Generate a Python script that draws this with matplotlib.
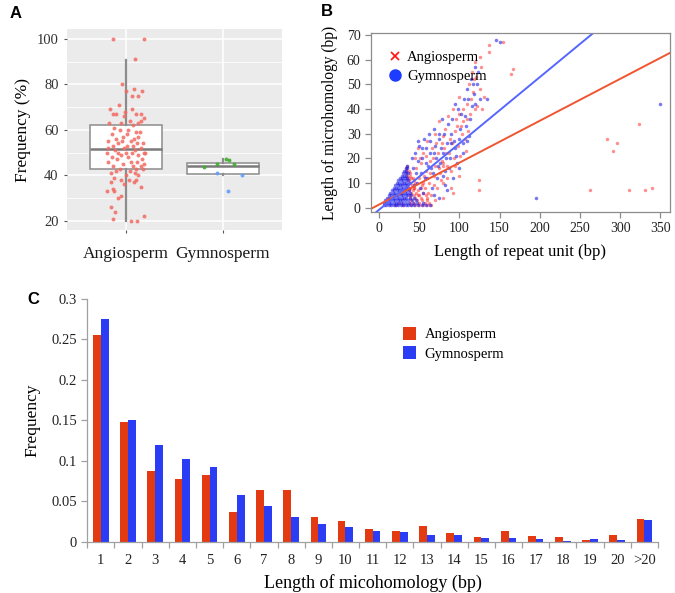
import matplotlib
matplotlib.use("Agg")
import matplotlib.pyplot as plt
from matplotlib.lines import Line2D
import numpy as np

plt.rcParams['font.family'] = ['Liberation Serif', 'DejaVu Serif']

# ---------------- Panel A data ----------------
a_groups = ["Angiosperm", "Gymnosperm"]
# box statistics: whislo, q1, med, q3, whishi
a_box_ang = [20, 42.7, 51.4, 62.3, 90.8]
a_box_gym = [40.0, 40.5, 44.1, 45.5, 47.2]
ang_vals = [100, 100, 91, 80, 78, 77, 77, 75, 75, 71, 69, 69, 68, 67, 67, 67, 67, 66, 65, 64, 64, 63, 63, 63, 62,
            61, 60, 60, 59, 59, 58, 58, 57, 57, 56, 56, 55, 55, 55, 54, 54, 54, 53, 53, 53, 52, 52, 52, 51, 51,
            50, 50, 50, 50, 50, 50, 49, 49, 48, 48, 47, 47, 46, 46, 46, 45, 45, 44, 44, 44, 43, 43, 43,
            42, 42, 41, 41, 40, 40, 39, 38, 38, 38, 37, 37, 36, 35, 34, 33, 33, 31, 30, 26, 24, 22, 21, 20, 20]
ang_jit = [-0.13, 0.18, 0.09, -0.04, 0.08, 0.0, 0.16, 0.06, 0.12, -0.07, -0.17, 0.06, -0.01, -0.13, -0.10, 0.10, 0.15,
           -0.02, 0.18, 0.04, 0.15, -0.18, -0.05, 0.12, 0.07,
           -0.12, -0.06, 0.02, 0.10, 0.14, -0.15, 0.01, 0.12, -0.03, 0.08, -0.10, -0.19, -0.04, 0.05, 0.17, -0.08,
           0.11, -0.14, 0.01, 0.07, -0.19, 0.15, -0.02, 0.09, -0.11,
           -0.20, -0.08, 0.0, 0.06, 0.18, 0.20, -0.05, 0.12, -0.15, 0.02, 0.16, -0.09, 0.05, -0.19, 0.11, -0.03,
           0.19, -0.13, 0.07, 0.15, -0.06, 0.10, 0.17,
           -0.10, 0.04, -0.16, 0.09, 0.0, 0.12, -0.12, -0.05, 0.03, 0.10, -0.16, 0.08, -0.02, 0.15, -0.13, -0.20,
           -0.12, -0.05, -0.08, -0.16, -0.11, 0.18, -0.13, 0.05, 0.11]
gym_green_vals = [43.6, 44.9, 47.1, 46.6, 44.9]
gym_green_jit = [-0.20, -0.06, 0.03, 0.06, 0.11]
gym_blue_vals = [41.0, 40.1, 33.1]
gym_blue_jit = [-0.06, 0.20, 0.05]

# ---------------- Panel B data ----------------
ang_pts = [
    (40, 1), (45, 1), (50, 1), (55, 1), (60, 1), (65, 1), (20, 1), (30, 1),
    (38, 2), (43, 2), (50, 2), (57, 2), (62, 2), (25, 2),
    (40, 3), (47, 3), (53, 3), (60, 3), (39, 4), (45, 4), (52, 4),
    (38, 5), (44, 5), (50, 5), (58, 5), (40, 6), (46, 6), (55, 6),
    (37, 7), (42, 7), (48, 7), (38, 8), (44, 8), (52, 8), (36, 9), (41, 9),
    (38, 10), (45, 10), (55, 10), (37, 11), (43, 11), (36, 12), (40, 12),
    (35, 13), (39, 13), (34, 14), (38, 14), (33, 15), (37, 15), (34, 16), (35, 17),
    (45, 20), (48, 24), (50, 12), (52, 18), (55, 22), (57, 8), (58, 15), (60, 27), (62, 10), (63, 19),
    (65, 5), (66, 24), (68, 13), (70, 30), (70, 17), (72, 8), (73, 22), (75, 35), (76, 14), (78, 19),
    (78, 26), (79, 17), (80, 18), (80, 10), (82, 32), (83, 22), (85, 12), (86, 37), (88, 28), (89, 8),
    (90, 15), (92, 40), (93, 20), (95, 31), (96, 36), (98, 25), (100, 45), (100, 13), (102, 33),
    (103, 30), (105, 40), (108, 23), (110, 36), (112, 50), (115, 44), (116, 55), (118, 52), (119, 59),
    (120, 40), (122, 41), (124, 11), (124, 7), (125, 48), (126, 61), (128, 40), (130, 45), (137, 66),
    (137, 63), (154, 67), (164, 54), (167, 56), (263, 7), (283, 28), (291, 23), (296, 26), (311, 7),
    (323, 34), (331, 7), (339, 8),
    (42, 12), (44, 8), (46, 16), (48, 5), (51, 20), (53, 9), (56, 13), (59, 21), (61, 6), (64, 14),
    (67, 20), (69, 9), (71, 26), (74, 16), (77, 11), (79, 29), (81, 24), (84, 17), (87, 22), (91, 26),
    (94, 17), (97, 33), (99, 38), (101, 21), (104, 35), (107, 28), (109, 42), (111, 31), (113, 38),
    (117, 47), (121, 53), (127, 57), (80, 4), (92, 6), (60, 4), (70, 3)]
gym_pts = [
    (6, 1), (9, 1), (12, 1), (15, 1), (18, 1), (21, 1), (24, 1), (27, 1), (30, 1), (33, 1), (36, 1), (40, 1),
    (44, 1), (48, 1), (53, 1), (58, 1), (63, 1),
    (6, 2), (9, 2), (12, 2), (15, 2), (18, 2), (21, 2), (24, 2), (27, 2), (30, 2), (33, 2), (37, 2), (42, 2),
    (47, 2), (55, 2),
    (8, 3), (11, 3), (14, 3), (17, 3), (20, 3), (23, 3), (26, 3), (29, 3), (32, 3), (36, 3), (41, 3), (46, 3),
    (10, 4), (13, 4), (16, 4), (19, 4), (22, 4), (25, 4), (28, 4), (31, 4), (34, 4), (38, 4), (43, 4),
    (12, 5), (15, 5), (18, 5), (21, 5), (24, 5), (27, 5), (30, 5), (33, 5), (36, 5), (40, 5),
    (14, 6), (17, 6), (20, 6), (23, 6), (26, 6), (29, 6), (32, 6), (35, 6), (39, 6),
    (16, 7), (19, 7), (22, 7), (25, 7), (28, 7), (31, 7), (34, 7), (37, 7),
    (18, 8), (21, 8), (24, 8), (27, 8), (30, 8), (33, 8), (36, 8),
    (20, 9), (23, 9), (26, 9), (29, 9), (32, 9), (35, 9),
    (22, 10), (25, 10), (28, 10), (31, 10), (34, 10), (37, 10),
    (24, 11), (27, 11), (30, 11), (33, 11), (36, 11),
    (26, 12), (29, 12), (32, 12), (35, 12), (28, 13), (31, 13), (34, 13),
    (30, 14), (33, 14), (36, 14), (31, 15), (34, 15), (33, 16), (35, 16), (35, 17),
    (42, 16), (45, 22), (47, 10), (50, 25), (52, 14), (54, 20), (55, 6), (56, 28), (58, 18), (60, 12),
    (62, 30), (63, 22), (65, 16), (66, 8), (68, 32), (70, 25), (71, 20), (72, 12), (74, 28), (75, 4),
    (76, 18), (78, 36), (80, 22), (82, 15), (84, 26), (85, 7), (86, 34), (88, 20), (90, 30), (92, 12),
    (94, 24), (95, 42), (97, 18), (99, 28), (100, 16), (102, 38), (105, 26), (106, 44), (108, 33),
    (110, 48), (112, 29), (114, 52), (116, 41), (118, 46), (120, 57), (122, 50), (125, 44), (134, 44),
    (146, 68), (150, 67), (195, 4), (350, 42),
    (41, 20), (43, 9), (46, 14), (48, 19), (49, 27), (51, 8), (53, 24), (57, 12), (59, 24), (61, 17),
    (64, 27), (67, 14), (69, 22), (73, 17), (75, 30), (77, 24), (79, 13), (81, 30), (83, 20), (87, 16),
    (89, 26), (91, 36), (93, 27), (96, 21), (98, 40), (101, 32), (104, 22), (107, 37), (109, 27),
    (111, 44), (113, 36), (117, 50), (119, 42), (123, 55), (69, 5), (82, 9)]
# regression lines: (intercept, slope)
ang_fit = (1.2, 0.170)
gym_fit = (-0.9, 0.269)

# ---------------- Panel C data ----------------
c_labels = ["1", "2", "3", "4", "5", "6", "7", "8", "9", "10", "11", "12", "13", "14", "15", "16", "17",
            "18", "19", "20", ">20"]
c_ang = [0.255, 0.148, 0.087, 0.078, 0.082, 0.037, 0.064, 0.064, 0.030, 0.0256, 0.0153, 0.0136, 0.019,
         0.0107, 0.0058, 0.0136, 0.0066, 0.0058, 0.0016, 0.0087, 0.0277]
c_gym = [0.275, 0.150, 0.119, 0.102, 0.092, 0.058, 0.0445, 0.031, 0.022, 0.0178, 0.0132, 0.0124, 0.0087,
         0.0079, 0.005, 0.005, 0.0033, 0.0008, 0.0033, 0.002, 0.0268]

W, H = 675, 593
fig = plt.figure(figsize=(W / 100, H / 100), dpi=100)


def rect(l, t, r, b):
    return [l / W, 1 - b / H, (r - l) / W, (b - t) / H]


# ================= Panel A =================
axA = fig.add_axes(rect(67, 29, 282, 230))
axA.set_facecolor('#EBEBEB')
for s in axA.spines.values():
    s.set_visible(False)
stats = []
for b in [a_box_ang, a_box_gym]:
    stats.append(dict(whislo=b[0], q1=b[1], med=b[2], q3=b[3], whishi=b[4], fliers=[]))
axA.bxp(stats, positions=[1, 2], widths=0.75, showcaps=False, patch_artist=True, showfliers=False,
        boxprops=dict(facecolor='white', edgecolor='#8c8c8c', lw=1.1),
        medianprops=dict(color='#7a7a7a', lw=1.8),
        whiskerprops=dict(color='#8c8c8c', lw=1.6))
axA.scatter(1 + np.array(ang_jit), ang_vals, s=8, color='#F26B63', alpha=0.85, lw=0, zorder=3)
axA.scatter(2 + np.array(gym_green_jit), gym_green_vals, s=8, color='#3DAE2B', alpha=0.9, lw=0, zorder=3)
axA.scatter(2 + np.array(gym_blue_jit), gym_blue_vals, s=8, color='#619CFF', alpha=0.9, lw=0, zorder=3)
axA.set_xlim(0.39, 2.61)
axA.set_ylim(16, 104.3)
axA.set_yticks([20, 40, 60, 80, 100])
axA.set_yticklabels(['20', '40', '60', '80', '100'])
axA.set_yticks([30, 50, 70, 90], minor=True)
axA.set_xticks([1, 2])
axA.set_xticklabels(a_groups, fontsize=12.5, color='#1a1a1a')
axA.tick_params(axis='y', labelsize=10.5, labelcolor='#333333', color='#555555', length=2.5, width=0.8)
axA.tick_params(axis='x', color='#555555', length=2.5, width=0.8, pad=9)
axA.tick_params(which='minor', length=0)
axA.grid(True, which='major', color='white', lw=1.1)
axA.grid(True, which='minor', axis='y', color='white', lw=0.55)
axA.set_axisbelow(True)
axA.set_ylabel('Frequency (%)', fontsize=12.5, labelpad=4)
fig.text(10 / W, 1 - 13 / H, 'A', family='Liberation Sans', fontweight='bold', fontsize=12, va='center')

# ================= Panel B =================
axB = fig.add_axes(rect(371, 33, 670, 212))
for s in axB.spines.values():
    s.set_color('#8c8c8c')
    s.set_linewidth(0.9)
axB.set_xlim(-10, 362)
axB.set_ylim(-1.8, 70.8)
axB.set_xticks(range(0, 351, 50))
axB.set_yticks(range(0, 71, 10))
axB.tick_params(labelsize=10, color='#8c8c8c', length=4, width=0.9, labelcolor='#222222')
ax_ = np.array([p[0] for p in ang_pts]); ay_ = np.array([p[1] for p in ang_pts])
gx_ = np.array([p[0] for p in gym_pts]); gy_ = np.array([p[1] for p in gym_pts])
axB.scatter(ax_, ay_, marker='o', s=6, color='#FF2020', alpha=0.5, lw=0)
axB.scatter(gx_, gy_, marker='o', s=6.5, color='#2020E8', alpha=0.6, lw=0)
xx = np.array([-10, 362])
axB.plot(xx, ang_fit[0] + ang_fit[1] * xx, color='#F0552F', lw=1.4)
axB.plot(xx, gym_fit[0] + gym_fit[1] * xx, color='#5566FF', lw=1.4)
axB.set_xlabel('Length of repeat unit (bp)', fontsize=12, labelpad=6)
axB.set_ylabel('Length of microhomology (bp)', fontsize=11.2, labelpad=6)
hB = [Line2D([], [], marker='x', color='#FF1A1A', ls='none', markersize=6, mew=1.3),
      Line2D([], [], marker='o', color='#1E3CFF', ls='none', markersize=8)]
axB.legend(hB, ['Angiosperm', 'Gymnosperm'], loc='upper left', bbox_to_anchor=(0.023, 0.955), frameon=False,
           fontsize=10.5, handlelength=1.0, handletextpad=0.3, labelspacing=0.35, borderpad=0.2)
fig.text(321 / W, 1 - 11 / H, 'B', family='Liberation Sans', fontweight='bold', fontsize=12, va='center')

# ================= Panel C =================
axC = fig.add_axes(rect(87.3, 299, 658, 541.7))
x = np.arange(len(c_labels))
bw = 0.285
axC.bar(x - bw / 2, c_ang, width=bw, color='#E33A12', label='Angiosperm')
axC.bar(x + bw / 2, c_gym, width=bw, color='#2B3CF5', label='Gymnosperm')
axC.set_xlim(-0.5, len(c_labels) - 0.5)
axC.set_ylim(0, 0.3)
axC.set_yticks([0, 0.05, 0.1, 0.15, 0.2, 0.25, 0.3])
axC.set_yticklabels(['0', '0.05', '0.1', '0.15', '0.2', '0.25', '0.3'])
axC.set_xticks(x)
axC.set_xticklabels(c_labels)
axC.set_xticks(np.arange(-0.5, len(c_labels), 1.0), minor=True)
axC.tick_params(axis='x', which='major', length=0, pad=9, labelsize=10.5, labelcolor='#222222')
axC.tick_params(axis='x', which='minor', length=4, color='#a0a0a0', width=0.9)
axC.tick_params(axis='y', length=4, color='#a0a0a0', width=0.9, labelsize=10.5, labelcolor='#222222')
for s in ['top', 'right']:
    axC.spines[s].set_visible(False)
for s in ['left', 'bottom']:
    axC.spines[s].set_color('#a0a0a0')
    axC.spines[s].set_linewidth(0.9)
axC.set_xlabel('Length of micohomology (bp)', fontsize=13, labelpad=5)
axC.set_ylabel('Frequency', fontsize=12.5, labelpad=8)
axC.legend(loc='upper left', bbox_to_anchor=(0.53, 0.94), frameon=False, fontsize=10.5,
           handlelength=0.9, handleheight=1.0, handletextpad=0.6, labelspacing=0.35)
fig.text(27 / W, 1 - 300 / H, 'C', family='Liberation Sans', fontweight='bold', fontsize=12, va='center')

fig.savefig('out.png', dpi=100)
